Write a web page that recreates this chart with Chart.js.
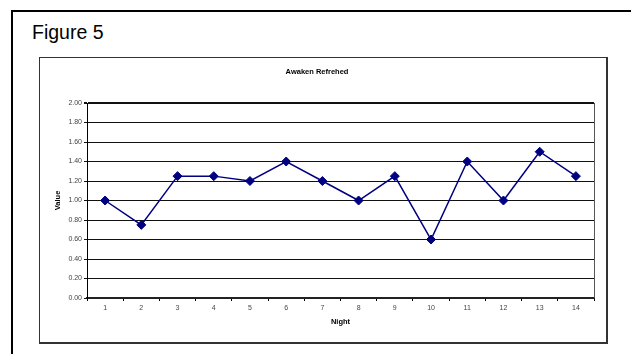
<!DOCTYPE html>
<html>
<head>
<meta charset="utf-8">
<script src="https://cdn.jsdelivr.net/npm/chart.js@4/dist/chart.umd.min.js"></script>
<style>
  html, body { margin: 0; padding: 0; background: #fff; width: 631px; height: 354px; overflow: hidden; }
  #frame { position: absolute; left: 11px; top: 10px; width: 640px; height: 360px;
           border-left: 2px solid #000; border-top: 2px solid #000; }
  #caption { position: absolute; left: 32px; top: 23px; font: 19.5px/19.5px "Liberation Sans", Arial, sans-serif; color: #000; }
  #box { position: absolute; left: 39px; top: 57px; width: 566px; height: 284px;
         border: 1px solid #333; border-right-width: 2px; border-bottom-width: 2px; background: #fff; }
  #wrap { position: absolute; left: 0; top: 0; width: 566px; height: 284px; }
</style>
</head>
<body>
<div id="frame"></div>
<div id="caption">Figure 5</div>
<div id="box"><div id="wrap"><canvas id="c"></canvas></div></div>
<script>
// Nights 1–14 and the recorded "awaken refreshed" score for each
const nights = ['1','2','3','4','5','6','7','8','9','10','11','12','13','14'];
const refreshed = [1.00, 0.75, 1.25, 1.25, 1.20, 1.40, 1.20, 1.00, 1.25, 0.60, 1.40, 1.00, 1.50, 1.25];
const yTicks = [0, 0.2, 0.4, 0.6, 0.8, 1.0, 1.2, 1.4, 1.6, 1.8, 2.0];

const FONT = '"Liberation Sans", Arial, sans-serif';

// thin grey line closing the plot area on the right
const plotEdge = {
  id: 'plotEdge',
  afterDraw(chart) {
    const a = chart.chartArea, ctx = chart.ctx;
    ctx.save();
    ctx.strokeStyle = '#555';
    ctx.lineWidth = 1;
    ctx.beginPath();
    ctx.moveTo(Math.round(a.right) + 0.5, a.top);
    ctx.lineTo(Math.round(a.right) + 0.5, a.bottom);
    ctx.stroke();
    ctx.restore();
  }
};

new Chart(document.getElementById('c'), {
  type: 'line',
  data: {
    labels: nights,
    datasets: [{
      data: refreshed,
      borderColor: '#000080',
      backgroundColor: '#000080',
      borderWidth: 1.5,
      pointStyle: 'rectRot',
      pointRadius: 4.5,
      pointBorderWidth: 1,
      pointBorderColor: '#000080',
      pointBackgroundColor: '#000080',
      tension: 0,
      fill: false
    }]
  },
  options: {
    responsive: true,
    maintainAspectRatio: false,
    animation: false,
    devicePixelRatio: 1,
    layout: { padding: { left: 0, right: 12, top: 0, bottom: 0 } },
    plugins: {
      legend: { display: false },
      tooltip: { enabled: false },
      title: {
        display: true,
        text: 'Awaken Refrehed',
        color: '#000',
        font: { family: FONT, size: 7.5, weight: 'bold', lineHeight: 1.2 },
        padding: { top: 9, bottom: 27 }
      }
    },
    scales: {
      x: {
        offset: true,
        grid: { offset: true, drawOnChartArea: false, drawTicks: true, tickLength: 3, color: '#000', lineWidth: 1 },
        border: { display: true, color: '#222', width: 2 },
        ticks: { color: '#444', font: { family: FONT, size: 7 }, padding: 3, maxRotation: 0, autoSkip: false },
        title: {
          display: true, text: 'Night', color: '#000',
          font: { family: FONT, size: 7.5, weight: 'bold', lineHeight: 1.2 },
          padding: { top: 0, bottom: 15.5 }
        },
        afterFit(scale) { scale.height = 44; }
      },
      y: {
        min: 0, max: 2,
        afterBuildTicks(scale) { scale.ticks = yTicks.map(v => ({ value: v })); },
        grid: {
          color: '#111',
          lineWidth: ctx => (ctx.tick && ctx.tick.value === 2) ? 2 : 1,
          drawTicks: true, tickLength: 3
        },
        border: { display: true, color: '#000', width: 1 },
        ticks: {
          color: '#444', font: { family: FONT, size: 7 }, padding: 2,
          callback: v => Number(v).toFixed(2)
        },
        title: {
          display: true, text: 'Value', color: '#000',
          font: { family: FONT, size: 7.5, weight: 'bold', lineHeight: 1.2 },
          padding: { top: 13.5, bottom: 0 }
        },
        afterFit(scale) { scale.width = 47; }
      }
    }
  },
  plugins: [plotEdge]
});
</script>
</body>
</html>
